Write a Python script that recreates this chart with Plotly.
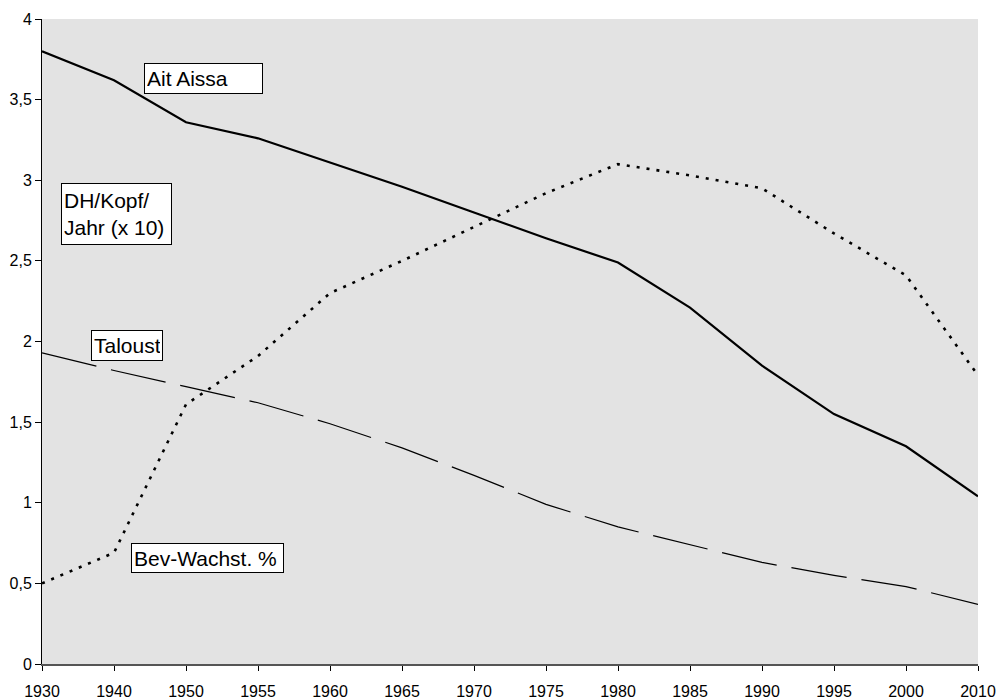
import plotly.graph_objects as go

# years are spaced evenly on the original chart (category axis)
years = ["1930", "1940", "1950", "1955", "1960", "1965", "1970",
         "1975", "1980", "1985", "1990", "1995", "2000", "2010"]

ait_aissa = [3.80, 3.62, 3.36, 3.26, 3.11, 2.96, 2.80,
             2.64, 2.49, 2.21, 1.85, 1.55, 1.35, 1.04]
bev_wachst = [0.50, 0.69, 1.61, 1.91, 2.30, 2.50, 2.71,
              2.92, 3.10, 3.03, 2.95, 2.67, 2.41, 1.79]
taloust = [1.93, 1.82, 1.72, 1.62, 1.49, 1.34, 1.17,
           0.99, 0.85, 0.74, 0.63, 0.55, 0.48, 0.37]

FONT = "Liberation Sans, Arial, sans-serif"

fig = go.Figure()
fig.add_trace(go.Scatter(x=years, y=ait_aissa, mode="lines", name="Ait Aissa",
                         line=dict(color="black", width=2.2)))
fig.add_trace(go.Scatter(x=years, y=bev_wachst, mode="lines", name="Bev-Wachst. %",
                         line=dict(color="black", width=2.6, dash="3px,7px")))
fig.add_trace(go.Scatter(x=years, y=taloust, mode="lines", name="Taloust",
                         line=dict(color="black", width=1.2, dash="56px,15px")))

# text, x, y (paper, top-left corner), box width, box height
labels = [
    ("Ait Aissa", 0.109, 0.932, 113, 25),
    ("DH/Kopf/<br>Jahr (x 10)", 0.0203, 0.746, 105, 56),
    ("Taloust", 0.0524, 0.518, 66, 25),
    ("Bev-Wachst. %", 0.0951, 0.188, 147, 24),
]
for text, ax, ay, w, h in labels:
    fig.add_annotation(text=text, x=ax, y=ay, xref="paper", yref="paper",
                       xanchor="left", yanchor="top", align="left", showarrow=False,
                       width=w, height=h,
                       font=dict(family=FONT, size=21, color="black"),
                       bgcolor="white", bordercolor="black", borderwidth=1, borderpad=2)

fig.update_xaxes(type="category", range=[0, 13], showgrid=False, zeroline=False,
                 showline=True, linecolor="#555555", linewidth=2, automargin=False,
                 ticks="outside", ticklen=5, tickcolor="black", ticklabelstandoff=7,
                 tickfont=dict(family=FONT, size=16, color="black"))
fig.update_yaxes(range=[0, 4], dtick=0.5, showgrid=False, zeroline=False,
                 showline=True, linecolor="black", linewidth=1, automargin=False,
                 ticks="outside", ticklen=6, tickcolor="black",
                 tickfont=dict(family=FONT, size=16, color="black"))

fig.update_layout(width=998, height=699, showlegend=False, separators=",.",
                  plot_bgcolor="#e3e3e3", paper_bgcolor="white",
                  margin=dict(l=42, r=20, t=19, b=35))

# drop the default 8px body margin so the figure fills the window exactly
fig.write_html("out.html", config={"displayModeBar": False},
               post_script="document.body.style.margin='0';")
